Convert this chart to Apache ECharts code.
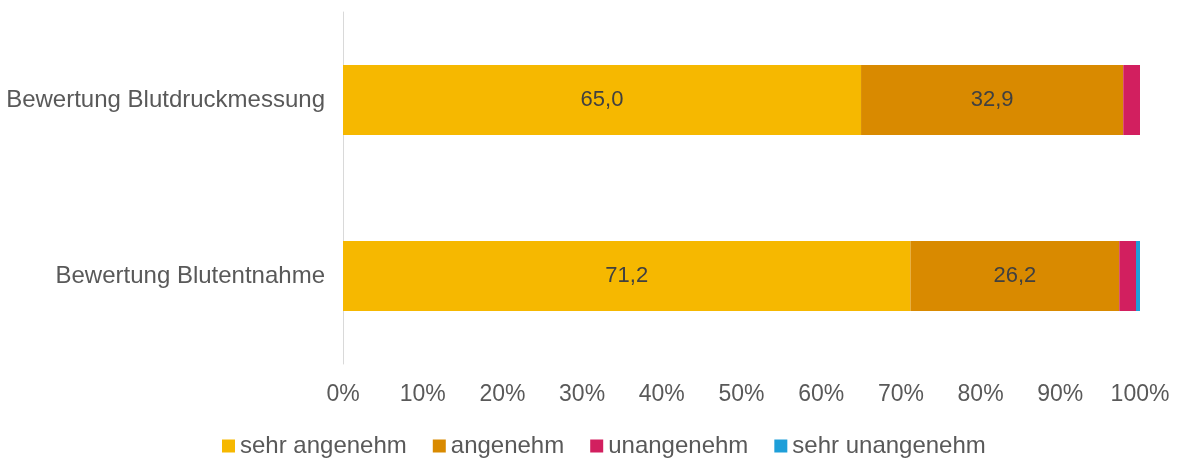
<!DOCTYPE html>
<html>
<head>
<meta charset="utf-8">
<script src="https://cdn.jsdelivr.net/npm/echarts@6/dist/echarts.min.js"></script>
<style>
  html, body { margin: 0; padding: 0; background: #ffffff; }
  #chart { width: 1179px; height: 458px; }
</style>
</head>
<body>
<div id="chart"></div>
<script>
// Kategorien (von oben nach unten) und Anteile in Prozent
const categories = ['Bewertung Blutdruckmessung', 'Bewertung Blutentnahme'];
const seriesNames = ['sehr angenehm', 'angenehm', 'unangenehm', 'sehr unangenehm'];
const sehrAngenehm = [65.0, 71.2];
const angenehm = [32.9, 26.2];
const unangenehm = [2.1, 2.1];
const sehrUnangenehm = [0.0, 0.5];
const tickLabels = ['0%', '10%', '20%', '30%', '40%', '50%', '60%', '70%', '80%', '90%', '100%'];

const colors = ['#F6B800', '#D98A00', '#D21F5F', '#1E9FD9'];
const values = [sehrAngenehm, angenehm, unangenehm, sehrUnangenehm];
const showLabel = [true, true, false, false];
const font = '"Liberation Sans", Arial, sans-serif';

const chart = echarts.init(document.getElementById('chart'));
chart.setOption({
  animation: false,
  textStyle: { fontFamily: font },
  grid: { left: 343, right: 39, top: 12, bottom: 94, containLabel: false },
  legend: {
    top: 434,
    left: 222,
    padding: 0,
    itemWidth: 13,
    itemHeight: 13,
    itemGap: 26,
    icon: 'rect',
    textStyle: { fontSize: 24, color: '#595959', fontFamily: font },
    data: seriesNames
  },
  xAxis: {
    type: 'value',
    min: 0,
    max: 100,
    interval: 10,
    axisLine: { show: false },
    axisTick: { show: false },
    splitLine: { show: false },
    axisLabel: {
      color: '#595959',
      fontSize: 23,
      margin: 19,
      formatter: v => tickLabels[Math.round(v / 10)]
    }
  },
  yAxis: {
    type: 'category',
    inverse: true,
    data: categories,
    axisLine: { show: true, lineStyle: { color: '#D9D9D9', width: 1 } },
    axisTick: { show: false },
    axisLabel: { color: '#595959', fontSize: 24, margin: 18 }
  },
  series: seriesNames.map((name, i) => ({
    name,
    type: 'bar',
    stack: 'total',
    barWidth: 70,
    itemStyle: { color: colors[i] },
    label: {
      show: showLabel[i],
      position: 'inside',
      color: '#404040',
      fontSize: 22,
      fontFamily: font,
      formatter: p => p.value.toFixed(1).replace('.', ',')
    },
    data: values[i]
  }))
});
</script>
</body>
</html>
